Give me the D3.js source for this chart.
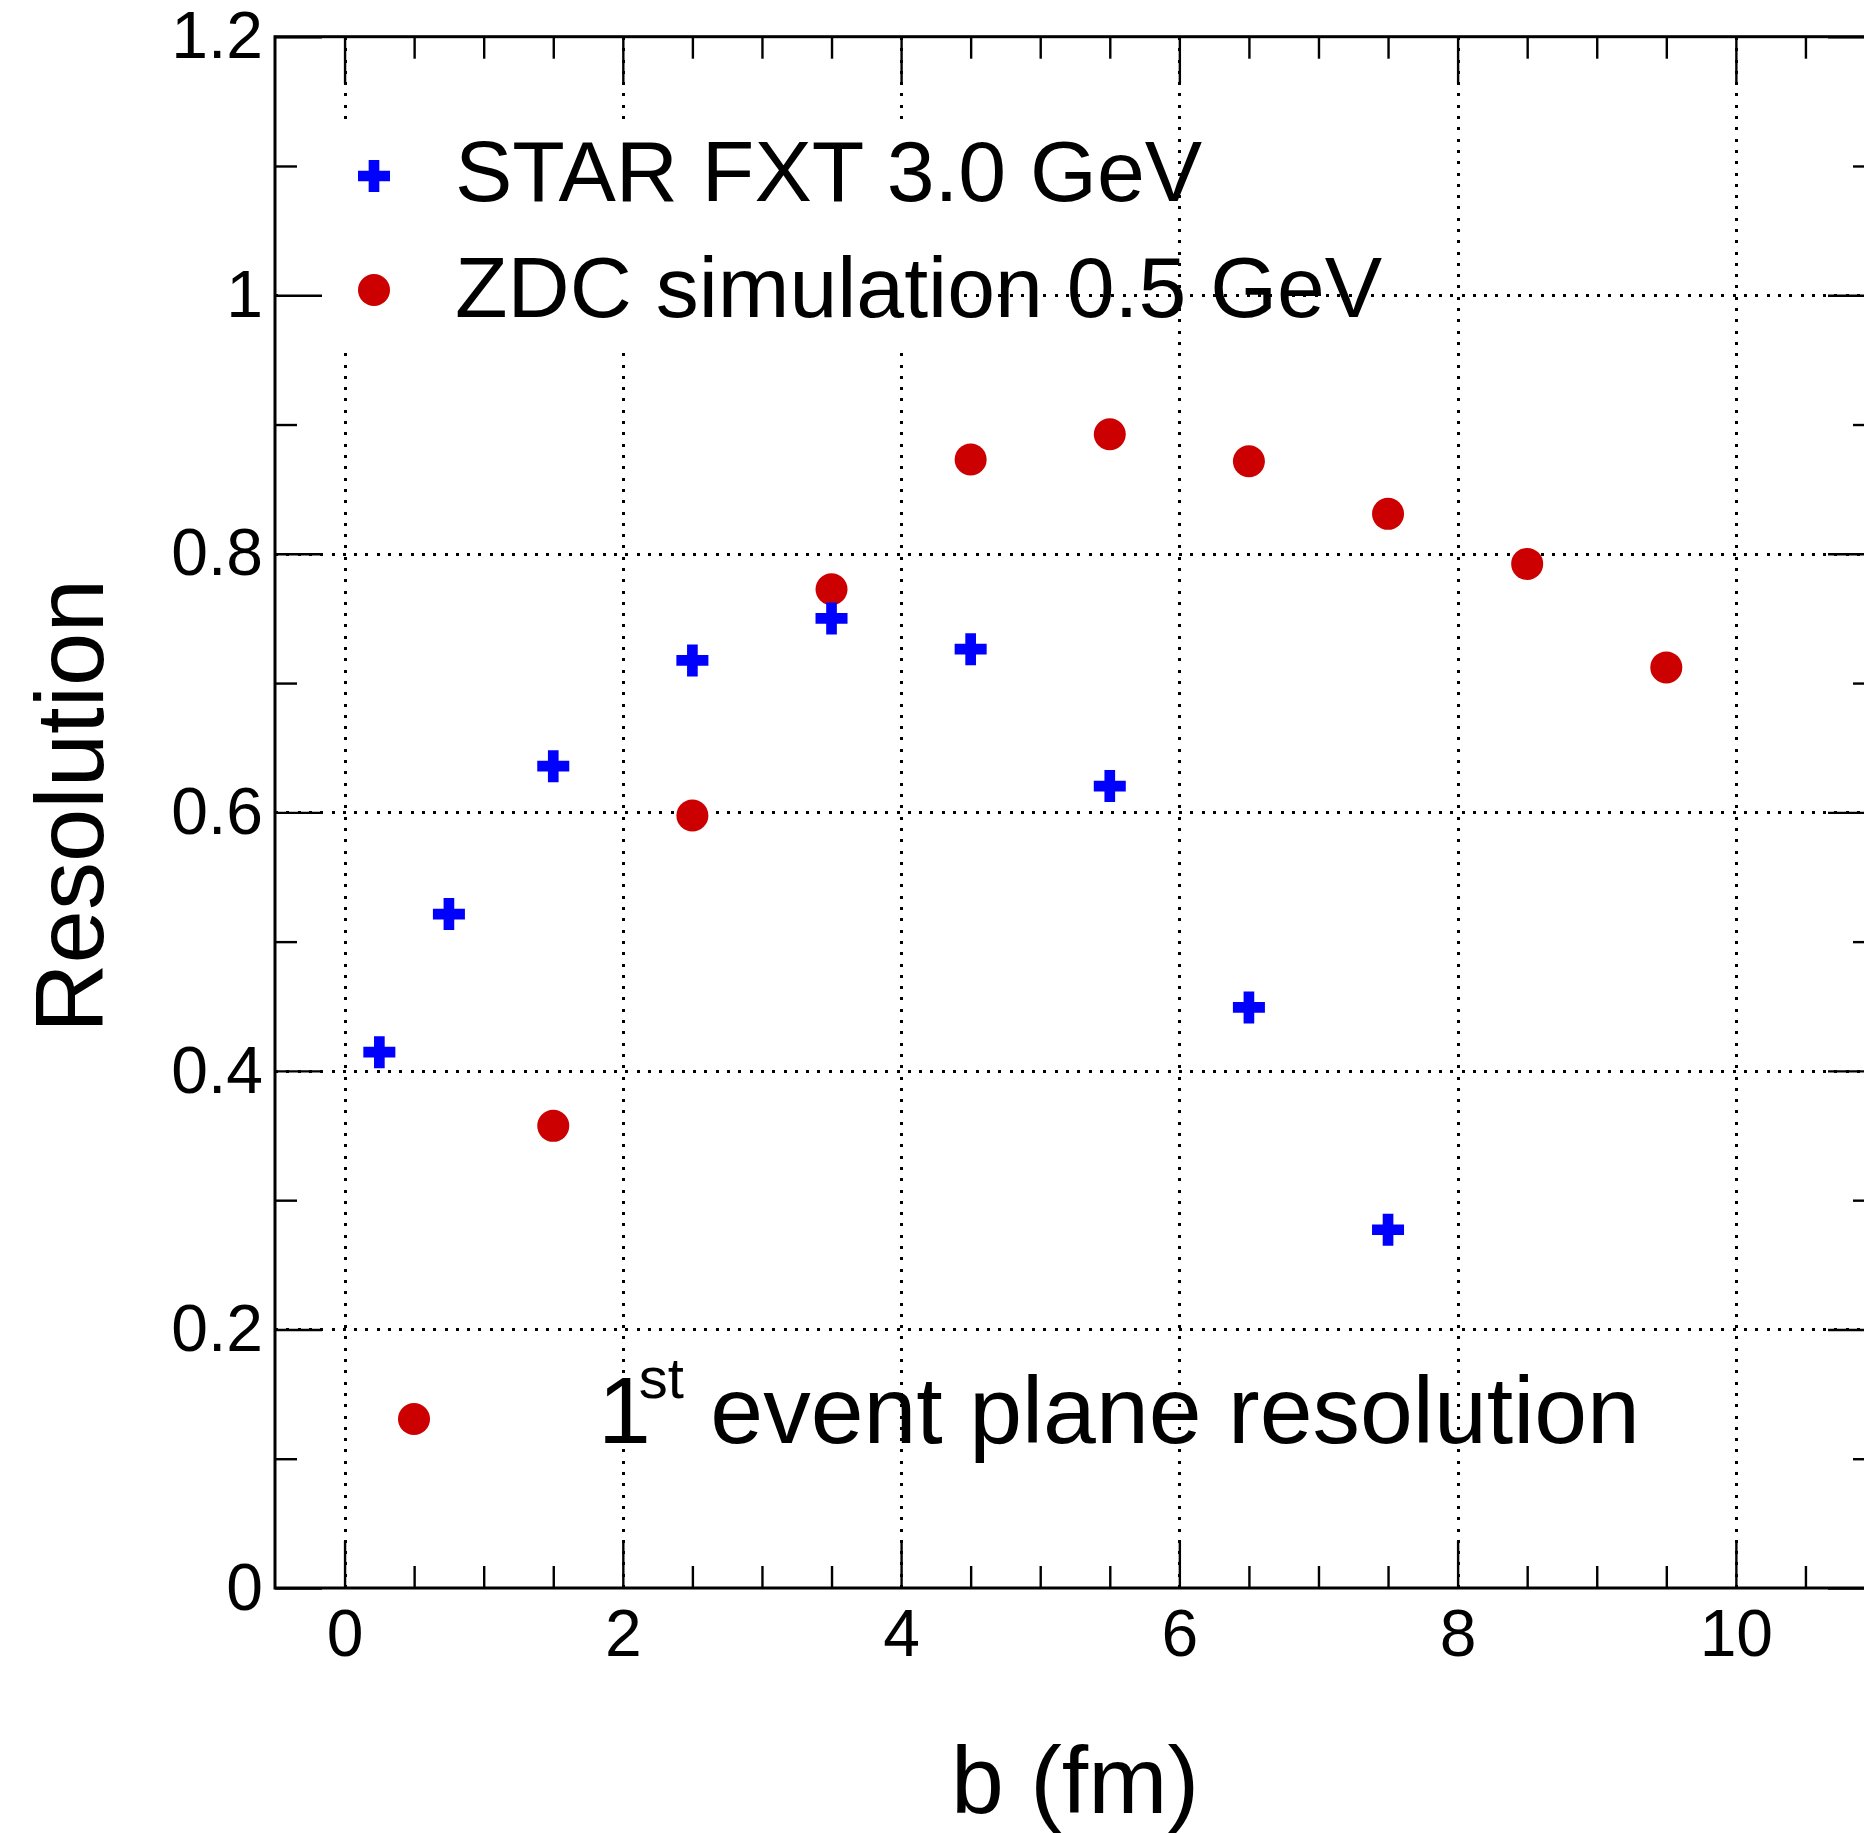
<!DOCTYPE html>
<meta charset="utf-8">
<head>
<script src="https://d3js.org/d3.v7.min.js"></script>
</head>
<style>
    html, body { margin: 0; padding: 0; background: white; }
    text { font-family: "Liberation Sans", Arial, Helvetica, sans-serif; fill: black; }
    .tick line { stroke: black; stroke-width: 2.4; }
    .grid line { stroke: black; stroke-width: 3; stroke-dasharray: 3, 8.3; shape-rendering: crispEdges; }
    .grid .domain, .ax .domain { display: none; }
    .frame { fill: none; stroke: black; stroke-width: 3; }
</style>
<body>
<div id="chart"></div>
<script>

// ---- data ----
var starB   = [0.25, 0.75, 1.5, 2.5, 3.5, 4.5, 5.5, 6.5, 7.5];
var starRes = [0.4145, 0.5213, 0.6357, 0.7175, 0.750, 0.7262, 0.6203, 0.4491, 0.2771];

var zdcB    = [1.5, 2.5, 3.5, 4.5, 5.5, 6.5, 7.5, 8.5, 9.5];
var zdcRes  = [0.3575, 0.5976, 0.7726, 0.8729, 0.8925, 0.8716, 0.8309, 0.7922, 0.7121];

var xMajor = [0, 2, 4, 6, 8, 10];
var xMinor = [0.5, 1, 1.5, 2.5, 3, 3.5, 4.5, 5, 5.5, 6.5, 7, 7.5, 8.5, 9, 9.5, 10.5];
var yMajor = [0, 0.2, 0.4, 0.6, 0.8, 1, 1.2];
var yMinor = [0.1, 0.3, 0.5, 0.7, 0.9, 1.1];
var yLabels = ["0", "0.2", "0.4", "0.6", "0.8", "1", "1.2"];

var legendNames = ["STAR FXT 3.0 GeV", "ZDC simulation 0.5 GeV"];
var noteText = ["1", "st", " event plane resolution"];

var xTitle = "b (fm)", yTitle = "Resolution";

// set the dimensions and margins of the graph
var margin = {top: 36.7, left: 275},
    width = 1600,
    height = 1551.3;

var svg = d3.select("#chart").append("svg")
    .attr("width", 1864)
    .attr("height", 1833);

svg.append("rect").attr("width", 1864).attr("height", 1833).attr("fill", "white");

var g = svg.append("g")
    .attr("transform", "translate(" + margin.left + "," + margin.top + ")");

var x = d3.scaleLinear().domain([-0.5, 11]).range([0, width]),
    y = d3.scaleLinear().domain([0, 1.2]).range([height, 0]);

var majorLen = 47, minorLen = 22;

// dotted grid
g.append("g").attr("class", "grid")
    .attr("transform", "translate(0," + height + ")")
    .call(d3.axisBottom(x).tickValues(xMajor).tickSize(-height).tickFormat(""));
g.append("g").attr("class", "grid")
    .call(d3.axisLeft(y).tickValues([0.2, 0.4, 0.6, 0.8, 1]).tickSize(-width).tickFormat(""));

// legend box hides the grid behind it
g.append("rect")
    .attr("x", 3)
    .attr("y", y(1.135))
    .attr("width", x(4.45) - 3)
    .attr("height", y(0.956) - y(1.135))
    .attr("fill", "white");

// ticks on all four sides
function ticks(axisFn, vals, len, tr, labels) {
    var a = axisFn.tickValues(vals).tickSize(-len).tickSizeOuter(0);
    if (labels) a.tickFormat(function(d, i) { return labels[i]; }).tickPadding(labels.pad);
    else a.tickFormat("");
    var sel = g.append("g").attr("class", "ax").attr("transform", tr).call(a);
    sel.selectAll("text").style("font-size", "66px");
    return sel;
}
var xLab = xMajor.map(String); xLab.pad = 21;
var yLab = yLabels.slice(); yLab.pad = 12;

ticks(d3.axisBottom(x), xMajor, majorLen, "translate(0," + height + ")", xLab);
ticks(d3.axisBottom(x), xMinor, minorLen, "translate(0," + height + ")");
ticks(d3.axisTop(x), xMajor, majorLen, "translate(0,0)");
ticks(d3.axisTop(x), xMinor, minorLen, "translate(0,0)");
ticks(d3.axisLeft(y), yMajor, majorLen, "translate(0,0)", yLab);
ticks(d3.axisLeft(y), yMinor, minorLen, "translate(0,0)");
ticks(d3.axisRight(y), yMajor, majorLen, "translate(" + width + ",0)");
ticks(d3.axisRight(y), yMinor, minorLen, "translate(" + width + ",0)");

g.append("rect").attr("class", "frame")
    .attr("width", width).attr("height", height);

// markers
var cross = d3.symbol().type(d3.symbolCross).size(569);

g.selectAll(".zdc")
    .data(zdcB)
  .enter().append("circle")
    .attr("class", "zdc")
    .attr("cx", function(d) { return x(d); })
    .attr("cy", function(d, i) { return y(zdcRes[i]); })
    .attr("r", 16)
    .attr("fill", "#cc0000");

g.selectAll(".star")
    .data(starB)
  .enter().append("path")
    .attr("class", "star")
    .attr("d", cross)
    .attr("transform", function(d, i) { return "translate(" + x(d) + "," + y(starRes[i]) + ")"; })
    .attr("fill", "#0000ff");

// legend
svg.append("path").attr("d", cross).attr("transform", "translate(374,176)").attr("fill", "#0000ff");
svg.append("circle").attr("cx", 374).attr("cy", 290).attr("r", 16).attr("fill", "#cc0000");
svg.selectAll(".leg")
    .data(legendNames)
  .enter().append("text")
    .attr("class", "leg")
    .attr("x", 455)
    .attr("y", function(d, i) { return 201 + i * 116; })
    .style("font-size", "86px")
    .text(function(d) { return d; });

// second note: 1st event plane resolution
svg.append("circle").attr("cx", 414).attr("cy", 1419).attr("r", 16).attr("fill", "#cc0000");
var note = svg.append("text").attr("x", 598).attr("y", 1443).style("font-size", "95px");
note.append("tspan").text(noteText[0]);
note.append("tspan").attr("dx", -12).attr("dy", -45).style("font-size", "58px").text(noteText[1]);
note.append("tspan").attr("dy", 45).style("font-size", "95px").text(noteText[2]);

// axis titles
svg.append("text")
    .attr("x", 1075).attr("y", 1813)
    .attr("text-anchor", "middle")
    .style("font-size", "95px")
    .text(xTitle);

svg.append("text")
    .attr("transform", "translate(103,806) rotate(-90)")
    .attr("text-anchor", "middle")
    .style("font-size", "96px")
    .text(yTitle);

</script>
</body>
